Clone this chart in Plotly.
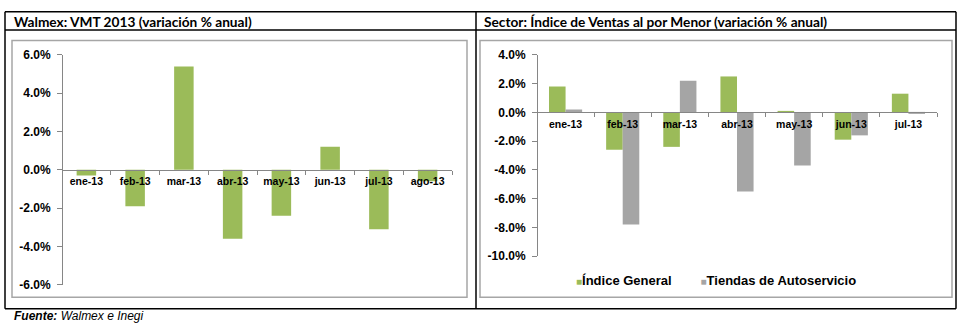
import plotly.graph_objects as go

# ---------------- data ----------------
months_left = ['ene-13', 'feb-13', 'mar-13', 'abr-13', 'may-13', 'jun-13', 'jul-13', 'ago-13']
walmex_vmt = [-0.3, -1.9, 5.4, -3.6, -2.4, 1.2, -3.1, -0.6]

months_right = ['ene-13', 'feb-13', 'mar-13', 'abr-13', 'may-13', 'jun-13', 'jul-13']
indice_general = [1.8, -2.6, -2.4, 2.5, 0.1, -1.9, 1.3]
tiendas_autoservicio = [0.2, -7.8, 2.2, -5.5, -3.7, -1.6, -0.1]

left_yticks = [-6, -4, -2, 0, 2, 4, 6]
left_ylabels = ['-6.0%', '-4.0%', '-2.0%', '0.0%', '2.0%', '4.0%', '6.0%']
right_yticks = [-10, -8, -6, -4, -2, 0, 2, 4]
right_ylabels = ['-10.0%', '-8.0%', '-6.0%', '-4.0%', '-2.0%', '0.0%', '2.0%', '4.0%']

series_names = ['Índice General', 'Tiendas de Autoservicio']

title_left = 'Walmex: VMT 2013 (variación % anual)'
title_right = 'Sector: Índice de Ventas al por Menor (variación % anual)'
source_text = '<b>Fuente:</b> Walmex e Inegi'

# ---------------- style ----------------
W, H = 962, 333
GREEN = '#9BBB59'
GRAY = '#A5A5A5'
AXIS = '#868686'
FONT = 'Liberation Sans, Arial, sans-serif'
TFONT = 'Lato, Liberation Sans, sans-serif'


def px(x):
    return x / W


def py(y):
    return 1 - y / H


fig = go.Figure()

fig.add_trace(go.Bar(
    x=months_left, y=walmex_vmt, marker=dict(color=GREEN, line=dict(width=0)),
    width=0.4, offset=-0.2, xaxis='x', yaxis='y', showlegend=False,
))
fig.add_trace(go.Bar(
    x=months_right, y=indice_general, marker=dict(color=GREEN, line=dict(width=0)),
    width=0.29, offset=-0.29, xaxis='x2', yaxis='y2', showlegend=False,
    name=series_names[0],
))
fig.add_trace(go.Bar(
    x=months_right, y=tiendas_autoservicio, marker=dict(color=GRAY, line=dict(width=0)),
    width=0.29, offset=0.0, xaxis='x2', yaxis='y2', showlegend=False,
    name=series_names[1],
))

# axis geometry (pixels)
L_y0, L_y1 = 290, 50      # -6 .. 6
L_x0, L_x1 = 62, 452
R_y0, R_y1 = 260, 50      # -10 .. 4
R_x0, R_x1 = 537, 937

L_zero = L_y0 + (L_y1 - L_y0) * (0 - (-6)) / 12
R_zero = R_y0 + (R_y1 - R_y0) * (0 - (-10)) / 14

ytick_font = dict(family=FONT, size=12, color='black', weight='bold')
xtick_font = dict(family=FONT, size=10.5, color='black', weight='bold')

common_y = dict(showgrid=False, zeroline=False, showline=True, linecolor=AXIS, linewidth=1,
                ticks='outside', ticklen=5, tickcolor=AXIS,
                tickfont=ytick_font, ticklabelstandoff=4)
common_x = dict(type='category', showgrid=False, zeroline=False, showline=True, linecolor=AXIS,
                linewidth=1, ticks='outside', ticklen=4, tickcolor=AXIS, tickson='boundaries',
                tickfont=xtick_font, anchor='free', layer='above traces', ticklabelstandoff=2)

fig.update_layout(
    width=W, height=H, margin=dict(l=0, r=0, t=0, b=0),
    paper_bgcolor='white', plot_bgcolor='rgba(0,0,0,0)',
    barmode='overlay', showlegend=False,
    xaxis=dict(domain=[px(L_x0), px(L_x1)], position=py(L_zero), **common_x),
    yaxis=dict(domain=[py(L_y0), py(L_y1)], range=[-6, 6], tickvals=left_yticks,
               ticktext=left_ylabels, anchor='free', position=px(L_x0), **common_y),
    xaxis2=dict(domain=[px(R_x0), px(R_x1)], position=py(R_zero), **common_x),
    yaxis2=dict(domain=[py(R_y0), py(R_y1)], range=[-10, 4], tickvals=right_yticks,
                ticktext=right_ylabels, anchor='free', position=px(R_x0), **common_y),
)

shapes = []
# table frame
line_k = dict(color='black', width=1.5)
for (x0, y0, x1, y1) in [(5, 5, 956, 5), (5, 24, 956, 24), (5, 315, 956, 315),
                         (5, 5, 5, 315), (476, 5, 476, 315), (956, 5, 956, 315)]:
    shapes.append(dict(type='line', xref='paper', yref='paper', x0=px(x0), y0=py(y0),
                       x1=px(x1), y1=py(y1), line=line_k))
# chart areas
for (x0, y0, x1, y1) in [(12, 35, 467, 303), (480, 35, 952, 303)]:
    shapes.append(dict(type='rect', xref='paper', yref='paper', x0=px(x0), y0=py(y0),
                       x1=px(x1), y1=py(y1), line=dict(color='#A6A6A6', width=1.5),
                       layer='below'))
fig.update_layout(shapes=shapes)

sq = '<span style="font-size:10px;color:{c}">■</span>'
legend_text = (sq.format(c=GREEN) + '<b>' + series_names[0] + '</b>'
               + '\u00a0' * 8 + sq.format(c=GRAY) + '<b>' + series_names[1] + '</b>')

annotations = [
    dict(text=f'<b>{title_left}</b>', x=px(12), y=py(15), xref='paper', yref='paper',
         xanchor='left', yanchor='middle', showarrow=False,
         font=dict(family=TFONT, size=13.7, color='black')),
    dict(text=f'<b>{title_right}</b>', x=px(482), y=py(15), xref='paper', yref='paper',
         xanchor='left', yanchor='middle', showarrow=False,
         font=dict(family=TFONT, size=13.7, color='black')),
    dict(text=f'<i>{source_text}</i>', x=px(12), y=py(323), xref='paper', yref='paper',
         xanchor='left', yanchor='middle', showarrow=False,
         font=dict(family=FONT, size=12, color='black')),
    dict(text=legend_text, x=px(574), y=py(286), xref='paper', yref='paper',
         xanchor='left', yanchor='middle', showarrow=False,
         font=dict(family=FONT, size=13, color='black')),
]
fig.update_layout(annotations=annotations)

fig.write_html('out.html')
